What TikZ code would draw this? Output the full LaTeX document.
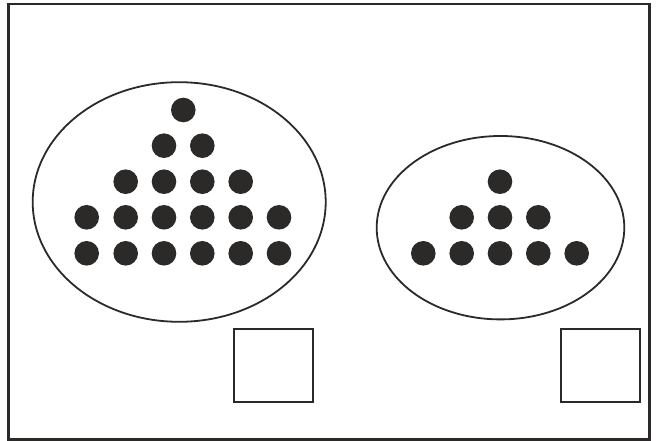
\documentclass[tikz,border=0pt]{standalone}
\definecolor{ink}{HTML}{2B2A28}
\begin{document}
\begin{tikzpicture}[x=1pt,y=-1pt,
  frame/.style={draw=ink,line width=2.2pt},
  blob/.style={draw=ink,line width=1.8pt},
  box/.style={draw=ink,line width=2pt},
  dot/.style={fill=ink}]
\useasboundingbox (0,0) rectangle (657,441);
\draw[frame] (8.5,4) rectangle (649.5,439.5);
% left ellipse
\draw[blob] (179.2,202) ellipse [x radius=146.5, y radius=119.8];
% left dots
\foreach \x/\y in {183.3/110,
  164/145.7, 202.3/145.7,
  125.7/181.7, 164/181.7, 202.3/181.7, 240.7/181.7,
  86.7/217.3, 125.7/217.3, 164/217.3, 202.3/217.3, 240.7/217.3, 279/217.3,
  86.7/253.3, 125.7/253.3, 164/253.3, 202.3/253.3, 240.7/253.3, 279/253.3}
  \fill[dot] (\x,\y) circle [radius=12.3];
% right ellipse
\draw[blob] (500.5,227.7) ellipse [x radius=123.8, y radius=91.7];
\foreach \x/\y in {500/181.7,
  461.7/217.3, 500/217.3, 538.3/217.3,
  423.3/253.3, 461.7/253.3, 500/253.3, 538.3/253.3, 576.7/253.3}
  \fill[dot] (\x,\y) circle [radius=12.3];
% squares
\draw[box] (234.3,329) rectangle (313.3,402.3);
\draw[box] (561,329) rectangle (640,402.3);
\end{tikzpicture}
\end{document}
